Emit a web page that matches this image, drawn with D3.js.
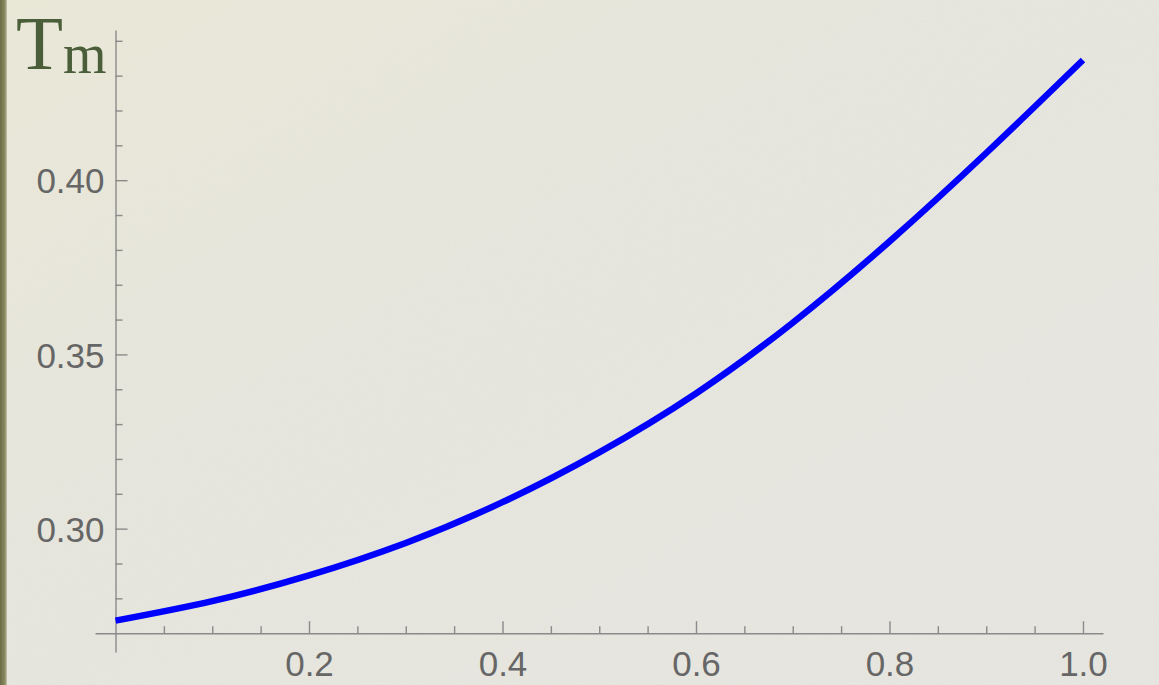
<!DOCTYPE html>
<html>
<head>
<meta charset="utf-8">
<script src="https://cdn.jsdelivr.net/npm/d3@7/dist/d3.min.js"></script>
<style>
  html, body { margin: 0; padding: 0; background: #e9e8e1; }
  svg { display: block; }
</style>
</head>
<body>
<svg id="chart" width="1159" height="685"></svg>
<script>
// Melting temperature T_m as a function of the parameter on the x axis
const xValues = [0, 0.1, 0.2, 0.3, 0.4, 0.5, 0.6, 0.7, 0.8, 0.9, 1.0];
const tmValues = [0.2736, 0.2792, 0.2866, 0.2959, 0.3076, 0.3219, 0.3388, 0.3591, 0.3824, 0.4078, 0.4345];

const xMajorTicks = [0.2, 0.4, 0.6, 0.8, 1.0];
const xMinorTicks = [0.05, 0.1, 0.15, 0.25, 0.3, 0.35, 0.45, 0.5, 0.55, 0.65, 0.7, 0.75, 0.85, 0.9, 0.95];
const yMajorTicks = [0.30, 0.35, 0.40];
const yMinorTicks = [0.28, 0.29, 0.31, 0.32, 0.33, 0.34, 0.36, 0.37, 0.38, 0.39, 0.41, 0.42, 0.43, 0.44];

const xOrigin = 0;      // where the y axis crosses
const yOrigin = 0.27;   // where the x axis crosses

const W = 1159, H = 685;
const svg = d3.select("#chart");

// paper-like background
const defs = svg.append("defs");
const bg = defs.append("linearGradient").attr("id", "paper")
  .attr("x1", 0).attr("y1", 0).attr("x2", 1).attr("y2", 1);
bg.append("stop").attr("offset", "0%").attr("stop-color", "#ecead9");
bg.append("stop").attr("offset", "35%").attr("stop-color", "#e9e8df");
bg.append("stop").attr("offset", "100%").attr("stop-color", "#e8e7e2");

const edge = defs.append("linearGradient").attr("id", "edge")
  .attr("x1", 0).attr("y1", 0).attr("x2", 1).attr("y2", 0);
edge.append("stop").attr("offset", "0%").attr("stop-color", "#6b6b45");
edge.append("stop").attr("offset", "70%").attr("stop-color", "#8a8a62");
edge.append("stop").attr("offset", "100%").attr("stop-color", "#c9c8b0");

const grain = defs.append("filter").attr("id", "grain")
  .attr("x", 0).attr("y", 0).attr("width", "100%").attr("height", "100%");
grain.append("feTurbulence").attr("type", "fractalNoise")
  .attr("baseFrequency", 0.9).attr("numOctaves", 2).attr("seed", 3);
grain.append("feColorMatrix").attr("type", "matrix")
  .attr("values", "0 0 0 0 0.45  0 0 0 0 0.45  0 0 0 0 0.40  0 0 0 0.10 0");

svg.append("rect").attr("width", W).attr("height", H).attr("fill", "url(#paper)");
svg.append("rect").attr("width", W).attr("height", H).attr("filter", "url(#grain)");
svg.append("rect").attr("x", 0).attr("y", 0).attr("width", 7).attr("height", H).attr("fill", "url(#edge)");

// scales
const x = d3.scaleLinear().domain([-0.0212, 1.0207]).range([95, 1103]);
const y = d3.scaleLinear().domain([0.2646, 0.4431]).range([652, 30]);

const axisColor = "#8a8a8a";
const labelColor = "#666666";
const labelFont = "Liberation Sans, Arial, Helvetica, sans-serif";

// x axis: ticks pointing up, labels below
const gx = svg.append("g").attr("transform", `translate(0,${y(yOrigin)})`);
gx.call(d3.axisTop(x).tickValues(xMajorTicks).tickSize(12).tickSizeOuter(0)
  .tickFormat(d3.format(".1f")));
gx.append("g").call(d3.axisTop(x).tickValues(xMinorTicks).tickSize(7).tickFormat(""))
  .select(".domain").remove();
gx.selectAll(".domain, line").attr("stroke", axisColor).attr("stroke-width", 1.4);
gx.selectAll("text")
  .attr("y", 43).attr("dy", null)
  .attr("fill", labelColor).attr("font-size", 35).attr("font-family", labelFont);

// y axis: ticks pointing right, labels left
const gy = svg.append("g").attr("transform", `translate(${x(xOrigin)},0)`);
gy.call(d3.axisRight(y).tickValues(yMajorTicks).tickSize(12).tickSizeOuter(0)
  .tickFormat(d3.format(".2f")));
gy.append("g").call(d3.axisRight(y).tickValues(yMinorTicks).tickSize(7).tickFormat(""))
  .select(".domain").remove();
gy.selectAll(".domain, line").attr("stroke", axisColor).attr("stroke-width", 1.4);
gy.selectAll("text")
  .attr("x", -11).attr("dy", "0.36em").attr("text-anchor", "end")
  .attr("fill", labelColor).attr("font-size", 35).attr("font-family", labelFont);

// curve
const line = d3.line()
  .x((d, i) => x(xValues[i]))
  .y(d => y(d))
  .curve(d3.curveNatural);

svg.append("path")
  .datum(tmValues)
  .attr("d", line)
  .attr("fill", "none")
  .attr("stroke", "#0000ff")
  .attr("stroke-width", 6.5)
  .attr("stroke-linecap", "butt")
  .attr("stroke-linejoin", "round");

// axis title T_m
const title = svg.append("text")
  .attr("x", 16).attr("y", 69)
  .attr("fill", "#4b5e3a")
  .attr("font-family", "Liberation Serif, Times New Roman, serif");
title.append("tspan").attr("font-size", 77).text("T");
title.append("tspan").attr("font-size", 56).attr("dy", 4).text("m");
</script>
</body>
</html>
